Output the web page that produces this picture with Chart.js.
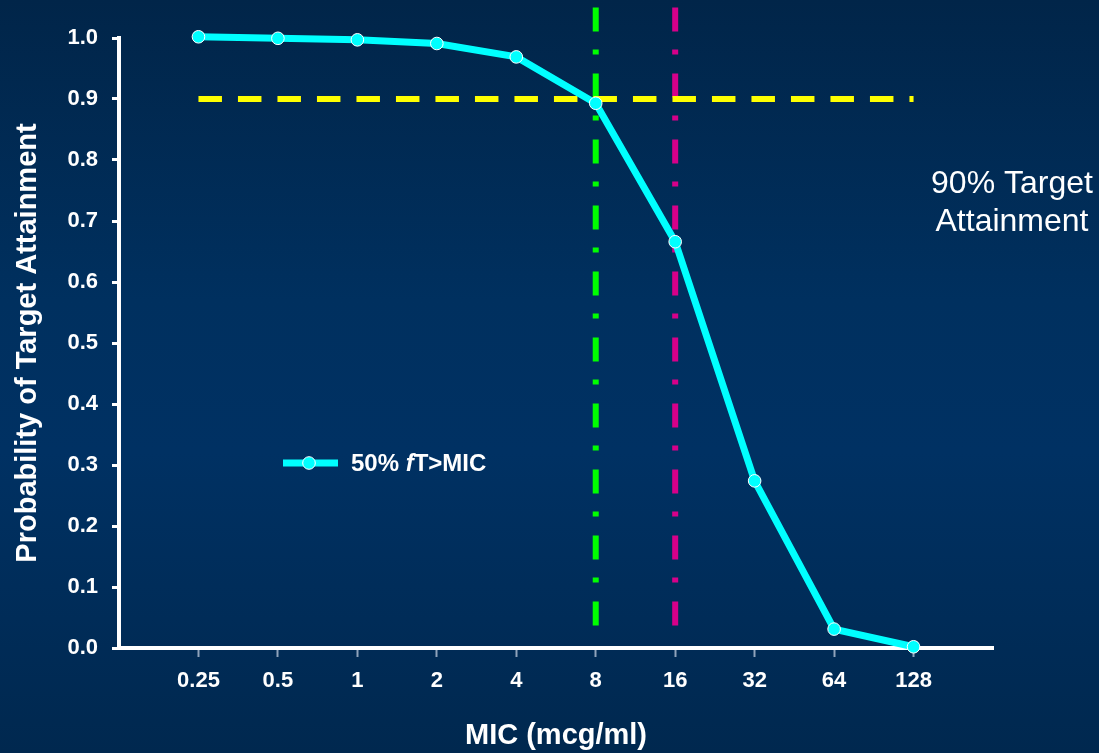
<!DOCTYPE html>
<html>
<head>
<meta charset="utf-8">
<script src="https://cdn.jsdelivr.net/npm/chart.js@4/dist/chart.umd.min.js"></script>
<style>
  html, body { margin: 0; padding: 0; }
  body {
    width: 1099px; height: 753px; overflow: hidden;
    background: linear-gradient(to bottom, #012549 0%, #00305f 40%, #003163 60%, #00284f 100%);
  }
  canvas { display: block; }
</style>
</head>
<body>
<canvas id="chart" width="1099" height="753"></canvas>
<script>
// MIC categories (x axis) and probability of target attainment
const micLabels = ['0.25', '0.5', '1', '2', '4', '8', '16', '32', '64', '128'];
const ptaValues = [1.002, 0.9995, 0.997, 0.991, 0.969, 0.893, 0.666, 0.274, 0.031, 0.002];
const seriesName = '50% fT>MIC';

// reference lines
const targetLevel = 0.9;          // 90% target attainment
const greenMicIndex = 5;          // MIC 8
const magentaMicIndex = 6;        // MIC 16
const refLineTop = 1.05;
const refLineBottom = 0.012;

const yTicks = [0, 0.1, 0.2, 0.3, 0.4, 0.5, 0.6, 0.7, 0.8, 0.9, 1.0];

const FONT = '"Liberation Sans", Arial, sans-serif';

const mainData = ptaValues.map((v, i) => ({ x: i, y: v }));

const annotations = {
  id: 'annotations',
  afterDraw(chart) {
    const ctx = chart.ctx;
    const area = chart.chartArea;
    ctx.save();
    // legend
    const lx = area.left + 164, ly = area.top + 425;
    ctx.strokeStyle = '#00ffff';
    ctx.lineWidth = 7;
    ctx.beginPath();
    ctx.moveTo(lx, ly);
    ctx.lineTo(lx + 55, ly);
    ctx.stroke();
    ctx.beginPath();
    ctx.arc(lx + 26, ly, 6.3, 0, Math.PI * 2);
    ctx.fillStyle = '#00ffff';
    ctx.fill();
    ctx.lineWidth = 1;
    ctx.strokeStyle = '#ffffff';
    ctx.stroke();

    ctx.fillStyle = '#ffffff';
    ctx.textBaseline = 'middle';
    ctx.textAlign = 'left';
    let tx = lx + 68;
    ctx.font = 'bold 24px ' + FONT;
    ctx.fillText('50% ', tx, ly + 1);
    tx += ctx.measureText('50% ').width;
    ctx.font = 'italic bold 24px ' + FONT;
    ctx.fillText('f', tx, ly + 1);
    tx += ctx.measureText('f').width;
    ctx.font = 'bold 24px ' + FONT;
    ctx.fillText('T>MIC', tx, ly + 1);

    // 90% target attainment note
    ctx.font = '32px ' + FONT;
    ctx.textAlign = 'center';
    ctx.fillText('90% Target', area.right + 19, area.top + 146);
    ctx.fillText('Attainment', area.right + 19, area.top + 184);
    ctx.restore();
  }
};

new Chart(document.getElementById('chart'), {
  type: 'line',
  data: {
    datasets: [
      {
        label: seriesName,
        data: mainData,
        borderColor: '#00ffff',
        backgroundColor: '#00ffff',
        borderWidth: 7,
        pointRadius: 6.3,
        pointBorderColor: '#ffffff',
        pointBorderWidth: 1,
        pointBackgroundColor: '#00ffff',
        tension: 0,
        clip: false
      },
      {
        label: '90% target',
        data: [{ x: 0, y: targetLevel }, { x: micLabels.length - 1, y: targetLevel }],
        borderColor: '#ffff00',
        borderWidth: 6,
        borderDash: [23.5, 16],
        borderCapStyle: 'butt',
        pointRadius: 0,
        clip: false
      },
      {
        label: 'MIC 8',
        data: [{ x: greenMicIndex, y: refLineTop }, { x: greenMicIndex, y: refLineBottom }],
        borderColor: '#00ff00',
        borderWidth: 6,
        borderDash: [24, 18, 5, 19],
        pointRadius: 0,
        clip: false
      },
      {
        label: 'MIC 16',
        data: [{ x: magentaMicIndex, y: refLineTop }, { x: magentaMicIndex, y: refLineBottom }],
        borderColor: '#d6008a',
        borderWidth: 6,
        borderDash: [24, 18, 5, 19],
        pointRadius: 0,
        clip: false
      }
    ]
  },
  options: {
    responsive: false,
    animation: false,
    maintainAspectRatio: false,
    devicePixelRatio: 1,
    layout: { padding: { top: 38, left: 0, right: 106, bottom: 0 } },
    plugins: {
      legend: { display: false },
      tooltip: { enabled: false }
    },
    scales: {
      x: {
        type: 'linear',
        min: -1,
        max: micLabels.length,
        afterBuildTicks: (scale) => {
          scale.ticks = micLabels.map((l, i) => ({ value: i }));
        },
        afterFit: (scale) => { scale.height = 105; },
        ticks: {
          color: '#ffffff',
          font: { family: FONT, size: 22, weight: 'bold' },
          padding: 11,
          maxRotation: 0,
          autoSkip: false,
          callback: (v) => micLabels[v]
        },
        grid: {
          drawOnChartArea: false,
          drawTicks: true,
          tickLength: 9,
          tickColor: '#8fa3bb',
          tickWidth: 2
        },
        border: { color: '#ffffff', width: 4 },
        title: {
          display: true,
          text: 'MIC (mcg/ml)',
          color: '#ffffff',
          font: { family: FONT, size: 29, weight: 'bold' },
          padding: { top: 0, bottom: 0 }
        }
      },
      y: {
        min: 0,
        max: 1,
        afterBuildTicks: (scale) => {
          scale.ticks = yTicks.map(v => ({ value: v }));
        },
        afterFit: (scale) => { scale.width = 119; },
        ticks: {
          color: '#ffffff',
          font: { family: FONT, size: 22, weight: 'bold' },
          padding: 14,
          callback: (v) => Number(v).toFixed(1)
        },
        grid: {
          drawOnChartArea: false,
          drawTicks: true,
          tickLength: 7,
          tickColor: '#ffffff',
          tickWidth: 3
        },
        border: { color: '#ffffff', width: 4 },
        title: {
          display: true,
          text: 'Probability of Target Attainment',
          color: '#ffffff',
          font: { family: FONT, size: 29, weight: 'bold' },
          padding: { top: 11, bottom: 0 }
        }
      }
    }
  },
  plugins: [annotations]
});
</script>
</body>
</html>
